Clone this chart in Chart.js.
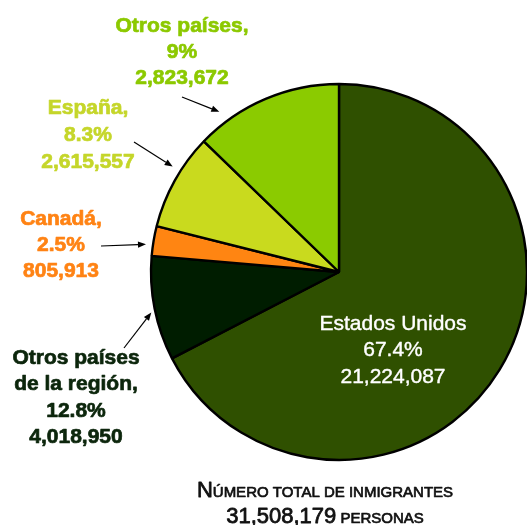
<!DOCTYPE html>
<html>
<head>
<meta charset="utf-8">
<script src="https://cdn.jsdelivr.net/npm/chart.js@4/dist/chart.umd.min.js"></script>
<style>
  html, body { margin: 0; padding: 0; background: #ffffff; }
  #wrap { width: 527px; height: 525px; position: relative; overflow: hidden; }
</style>
</head>
<body>
<div id="wrap"><canvas id="c" width="527" height="525"></canvas></div>
<script>
// Slices in drawing order (clockwise from 12 o'clock), sized as drawn in the picture
const categories = ['Estados Unidos', 'Otros países de la región', 'Canadá', 'España', 'Otros países'];
const sliceValues = [21224087, 2823672, 805913, 2615557, 4018950];
const sliceColors = ['#2f5000', '#001d00', '#ff8512', '#c9da1e', '#8bcb00'];

// Label texts as printed on the picture
const labelLines = [
  ['Estados Unidos', '67.4%', '21,224,087'],
  ['Otros países', 'de la región,', '12.8%', '4,018,950'],
  ['Canadá,', '2.5%', '805,913'],
  ['España,', '8.3%', '2,615,557'],
  ['Otros países,', '9%', '2,823,672']
];
const labelColors = ['#ffffff', '#0c260c', '#ff8314', '#c5d62a', '#8cc900'];
const totalLine1 = ['N', 'úmero total de inmigrantes'];
const totalLine2 = ['31,508,179', ' personas'];

// label anchor layout (centre x, first line y, line step) and arrows
const labelLayout = [
  { x: 393, y: 324, step: 26.5, bold: false, arrow: null },
  { x: 76, y: 358, step: 26.5, bold: true, arrow: { sx: 124, sy: 348, t: 0.47, gap: 4 } },
  { x: 61, y: 219, step: 26.3, bold: true, arrow: { sx: 101, sy: 246, t: 0.35, gap: 7 } },
  { x: 88, y: 108, step: 27, bold: true, arrow: { sx: 134, sy: 142, t: 0.61, gap: 9 } },
  { x: 182, y: 26, step: 26.2, bold: true, arrow: { sx: 182, sy: 97, t: 0.2, gap: 12 } }
];

const FONT = '"Liberation Sans", Arial, Helvetica, sans-serif';

function arrow(ctx, x1, y1, x2, y2) {
  const ang = Math.atan2(y2 - y1, x2 - x1);
  const hl = 8, hw = 3.2;
  const bx = x2 - hl * Math.cos(ang), by = y2 - hl * Math.sin(ang);
  ctx.save();
  ctx.strokeStyle = '#000';
  ctx.fillStyle = '#000';
  ctx.lineWidth = 1.2;
  ctx.beginPath();
  ctx.moveTo(x1, y1);
  ctx.lineTo(bx, by);
  ctx.stroke();
  ctx.beginPath();
  ctx.moveTo(x2, y2);
  ctx.lineTo(bx + hw * Math.sin(ang), by - hw * Math.cos(ang));
  ctx.lineTo(bx - hw * Math.sin(ang), by + hw * Math.cos(ang));
  ctx.closePath();
  ctx.fill();
  ctx.restore();
}

function heavyText(ctx, txt, x, y, sw) {
  ctx.fillText(txt, x, y);
  if (sw > 0) {
    ctx.lineWidth = sw;
    ctx.lineJoin = 'round';
    ctx.strokeStyle = ctx.fillStyle;
    ctx.strokeText(txt, x, y);
  }
}

function drawSmallCaps(ctx, parts, cx, baseline, bigSize, smallSize, color) {
  ctx.save();
  ctx.fillStyle = color;
  ctx.textBaseline = 'alphabetic';
  ctx.textAlign = 'left';
  const bigFont = 'normal ' + bigSize + 'px ' + FONT;
  const smallFont = 'normal ' + smallSize + 'px ' + FONT;
  ctx.font = bigFont;
  const w1 = ctx.measureText(parts[0]).width;
  ctx.font = smallFont;
  const small = parts[1].toUpperCase();
  const w2 = ctx.measureText(small).width;
  let x = cx - (w1 + w2) / 2;
  ctx.font = bigFont;
  heavyText(ctx, parts[0], x, baseline, 0.8);
  ctx.font = smallFont;
  heavyText(ctx, small, x + w1, baseline, 0.7);
  ctx.restore();
}

const labelsPlugin = {
  id: 'labelsPlugin',
  afterDraw(chart) {
    const ctx = chart.ctx;
    const arcs = chart.getDatasetMeta(0).data;
    labelLayout.forEach((lay, i) => {
      ctx.save();
      ctx.fillStyle = labelColors[i];
      ctx.textAlign = 'center';
      ctx.textBaseline = 'middle';
      ctx.font = (lay.bold ? 'bold ' : 'normal ') + '21px ' + FONT;
      labelLines[i].forEach((ln, k) => {
        heavyText(ctx, ln, lay.x, lay.y + k * lay.step, lay.bold ? 0.7 : 0.4);
      });
      ctx.restore();
      if (lay.arrow) {
        const a = arcs[i];
        const ang = a.startAngle + lay.arrow.t * (a.endAngle - a.startAngle);
        const r = a.outerRadius + lay.arrow.gap;
        arrow(ctx, lay.arrow.sx, lay.arrow.sy, a.x + r * Math.cos(ang), a.y + r * Math.sin(ang));
      }
    });
    drawSmallCaps(ctx, totalLine1, 325, 497, 22, 15, '#111111');
    drawSmallCaps(ctx, totalLine2, 325, 523, 22, 15, '#111111');
  }
};

new Chart(document.getElementById('c'), {
  type: 'pie',
  data: {
    labels: categories,
    datasets: [{
      data: sliceValues,
      backgroundColor: sliceColors,
      borderColor: '#000000',
      borderWidth: 2.4,
      borderAlign: 'center'
    }]
  },
  options: {
    responsive: false,
    animation: false,
    radius: 188,
    layout: { padding: { left: 151, right: 0, top: 19, bottom: 0 } },
    plugins: {
      legend: { display: false },
      tooltip: { enabled: false },
      title: { display: false }
    }
  },
  plugins: [labelsPlugin]
});
</script>
</body>
</html>
